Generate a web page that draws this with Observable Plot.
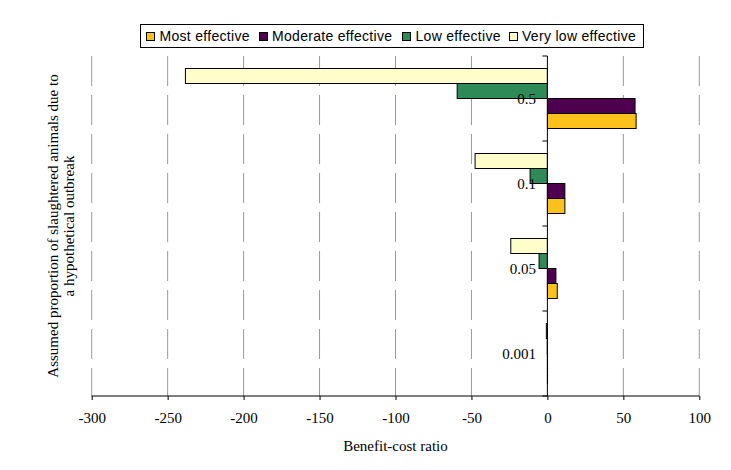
<!DOCTYPE html>
<html>
<head>
<meta charset="utf-8">
<script src="https://cdn.jsdelivr.net/npm/d3@7"></script>
<script src="https://cdn.jsdelivr.net/npm/@observablehq/plot@0.6"></script>
<style>
  body { margin: 0; background: #fff; }
  #wrap { position: relative; width: 731px; height: 470px; overflow: hidden; background: #fff; }
  #chart { position: absolute; left: 0; top: 0; }
  #legend { position: absolute; left: 140px; top: 24px; width: 504px; height: 24px; box-sizing: border-box;
            border: 1px solid #000;
            font-family: "Liberation Sans", Arial, sans-serif; font-size: 14px; letter-spacing: 0.3px; color: #000; background: #fff; white-space: nowrap; }
  .item { position: absolute; top: 0; height: 22px; display: flex; align-items: center; }
  .sw { width: 9px; height: 9px; box-sizing: border-box; border: 1px solid #000; margin-right: 4.5px; }
  #xtitle { position: absolute; left: 91.7px; width: 607.6px; top: 438px; text-align: center; line-height: 17px;
            font-family: "Liberation Serif", "Times New Roman", serif; font-size: 15px; color: #000; }
  #ytitle { position: absolute; left: -139px; top: 210px; width: 400px; height: 32px; line-height: 16px; text-align: center;
            transform: rotate(-90deg); transform-origin: 50% 50%;
            font-family: "Liberation Serif", "Times New Roman", serif; font-size: 15px; color: #000; }
</style>
</head>
<body>
<div id="wrap">
  <div id="chart"></div>
  <div id="legend"></div>
  <div id="xtitle">Benefit-cost ratio</div>
  <div id="ytitle">Assumed proportion of slaughtered animals due to<br>a hypothetical outbreak</div>
</div>
<script>
const categories = ["0.5", "0.1", "0.05", "0.001"];
const seriesNames = ["Most effective", "Moderate effective", "Low effective", "Very low effective"];
const mostEffective = [58.4, 11.5, 6.5, 0.1];
const moderateEffective = [57.7, 11.5, 5.6, 0.1];
const lowEffective = [-59.4, -11.4, -5.5, -0.1];
const veryLowEffective = [-238.3, -47.6, -24.1, -0.7];
const xTicks = [-300, -250, -200, -150, -100, -50, 0, 50, 100];
const seriesColors = ["#fcc21b", "#4e004f", "#2e8b57", "#ffffcc"];

const seriesValues = [mostEffective, moderateEffective, lowEffective, veryLowEffective];
const rows = categories.flatMap((c, i) => seriesNames.map((s, j) => ({category: c, series: s, value: seriesValues[j][i]})));

const serif = '"Liberation Serif", "Times New Roman", serif';

const plot = Plot.plot({
  width: 731,
  height: 470,
  marginLeft: 91.7,
  marginRight: 31.7,
  marginTop: 56,
  marginBottom: 74,
  style: {fontFamily: serif, fontSize: "15px", background: "transparent", color: "#000"},
  x: {domain: [-300, 100]},
  y: {domain: [...seriesNames].reverse(), paddingInner: 0, paddingOuter: 12.5 / 15, axis: null, round: false},
  fy: {domain: categories, padding: 0, axis: null, round: false},
  color: {domain: seriesNames, range: seriesColors},
  marks: [
    Plot.barX(rows, {x: "value", y: "series", fy: "category", fill: "series", stroke: "#000", strokeWidth: 1}),
    Plot.text(categories, {fy: d => d, x: 0, text: d => d, textAnchor: "end", dx: -12, fontSize: 15, frameAnchor: "middle", fill: "#000"}),
    Plot.axisX({ticks: xTicks, tickFormat: d => String(d), tickSize: 4, tickPadding: 12, fontSize: 15, label: null, stroke: "#000", strokeOpacity: 1})
  ]
});

document.getElementById("chart").appendChild(plot);

// gridlines, axis lines and zero-axis tick marks, positioned by the plot's own scales
const svg = d3.select(plot.tagName.toLowerCase() === "svg" ? plot : plot.querySelector("svg"));
const xs = plot.scale("x");
const fys = plot.scale("fy");
const x0 = xs.apply(0);
const [xa, xb] = xs.range;
const bounds = categories.map(c => fys.apply(c));
bounds.push(fys.apply(categories[categories.length - 1]) + fys.bandwidth);
const yTop = bounds[0];
const yBottom = bounds[bounds.length - 1];

const grid = svg.insert("g", ":first-child").attr("stroke", "#999").attr("stroke-width", 1).attr("stroke-dasharray", "30,9");
xTicks.filter(d => d !== 0).forEach(t => {
  const px = xs.apply(t);
  grid.append("line").attr("x1", px).attr("x2", px).attr("y1", yTop).attr("y2", yBottom);
});

const g = svg.append("g").attr("stroke", "#000").attr("stroke-width", 1);
g.append("line").attr("x1", x0).attr("x2", x0).attr("y1", yTop).attr("y2", yBottom);
g.append("line").attr("x1", xa).attr("x2", xb).attr("y1", yBottom).attr("y2", yBottom);
bounds.forEach(b => g.append("line").attr("x1", x0 - 5).attr("x2", x0).attr("y1", b).attr("y2", b));

// legend
const legendOffsets = [5, 117.5, 261, 367.5];
const legend = d3.select("#legend");
seriesNames.forEach((s, i) => {
  const it = legend.append("div").attr("class", "item").style("left", legendOffsets[i] + "px");
  it.append("div").attr("class", "sw").style("background", seriesColors[i]);
  it.append("span").text(s);
});
</script>
</body>
</html>
